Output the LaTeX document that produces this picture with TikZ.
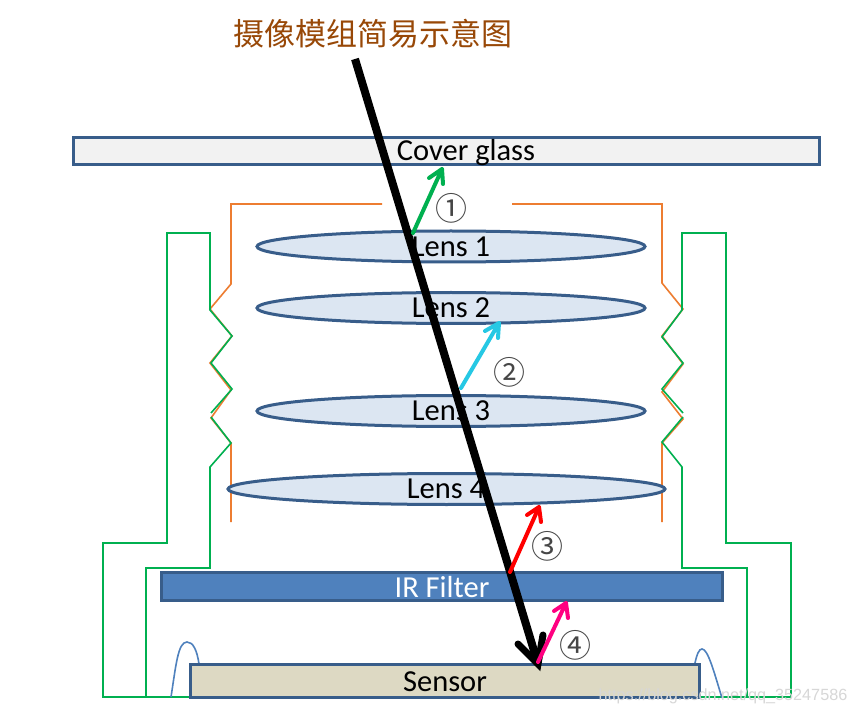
\documentclass[tikz,border=0pt]{standalone}
\usetikzlibrary{shapes.geometric}
\usepackage{fontspec}
\setmainfont{Carlito}
\newfontfamily\cjk{Noto Sans CJK SC}
\newfontfamily\wm{Liberation Sans}
\begin{document}
\begin{tikzpicture}[x=1pt,y=-1pt,
  orangeline/.style={draw={rgb,255:red,237;green,125;blue,49},line width=1.6pt,line join=miter},
  greenline/.style={draw={rgb,255:red,0;green,176;blue,80},line width=1.6pt},
  bump/.style={draw={rgb,255:red,79;green,129;blue,189},line width=1.6pt},
  part/.style={draw={rgb,255:red,56;green,93;blue,138},line width=3pt,inner sep=0pt},
  lens/.style={part,ellipse,fill={rgb,255:red,220;green,230;blue,242}},
  colorray/.style={line width=4pt,line cap=round,line join=round},
  num/.style={font=\cjk\fontsize{32}{32}\selectfont,inner sep=0pt,text={rgb,255:red,70;green,70;blue,70}},
  partlabel/.style={font=\fontsize{30.5}{31}\selectfont,inner sep=0pt,text=black}]
\useasboundingbox (0,0) rectangle (855,714);
\fill[white] (0,0) rectangle (855,714);
% housing
\draw[orangeline] (382,204) -- (231,204) -- (231,284) -- (210,309) -- (232,336) -- (210,363) -- (231,390) -- (211,418) -- (231,443) -- (231,522);
\draw[orangeline] (512,204) -- (662,204) -- (662,283) -- (683,309) -- (662,336) -- (683,364) -- (662,392) -- (683,419) -- (662,443) -- (662,522);
\draw[greenline] (190,697) -- (103,697) -- (103,543) -- (167,543) -- (167,233) -- (210,233) -- (210,310) -- (232,336) -- (211,363) -- (232,389) -- (211,413);
\draw[greenline] (211,417) -- (231,443) -- (210,467) -- (210,568) -- (146,568) -- (146,697);
\draw[greenline] (700,697) -- (791,697) -- (791,543) -- (726,543) -- (726,233) -- (682,233) -- (682,310) -- (662,337) -- (683,363) -- (662,389) -- (683,413);
\draw[greenline] (683,417) -- (662,442) -- (682,467) -- (682,568) -- (747,568) -- (747,697);
\draw[bump] (171,697) .. controls (176,665) and (178,642) .. (187,642) .. controls (193,642) and (197,650) .. (199,664);
\draw[bump] (695,663) .. controls (697,654) and (699,649) .. (702,649) .. controls (708,649) and (714,672) .. (722,698);
% parts
\node[part,rectangle,fill={rgb,255:red,242;green,242;blue,242},minimum width=746pt,minimum height=27pt] (cover) at (446.5,151) {};
\node[partlabel] (coverlabel) at (466,153) {Cover glass};
\node[lens,minimum width=388pt,minimum height=31pt] (l1) at (451,246.5) {};
\node[partlabel] at (451,247) {Lens 1};
\node[lens,minimum width=388pt,minimum height=31pt] (l2) at (451,308) {};
\node[partlabel] at (451,308) {Lens 2};
\node[lens,minimum width=388pt,minimum height=31pt] (l3) at (451,411) {};
\node[partlabel] at (451,411) {Lens 3};
\node[lens,minimum width=437pt,minimum height=31pt] (l4) at (446.5,489) {};
\node[partlabel] at (446,489) {Lens 4};
\node[part,rectangle,fill={rgb,255:red,79;green,129;blue,189},minimum width=561pt,minimum height=28pt] (ir) at (442,586.5) {};
\node[partlabel,text=white] at (442,587) {IR Filter};
\node[part,rectangle,fill={rgb,255:red,221;green,217;blue,195},minimum width=509pt,minimum height=33pt] (sensor) at (445,681) {};
\node[partlabel] at (445,682) {Sensor};
% rays
\coordinate (rayin) at (355,59);
\coordinate (rayend) at (538,664);
\draw[line width=8pt,line cap=butt] (rayin) -- (rayend);
\draw[line width=7pt,line join=miter,line cap=round] (518,644) -- (rayend) -- (543,635);
\coordinate (g0) at (413,233); \coordinate (g1) at (442,169);
\coordinate (c0) at (461,388); \coordinate (c1) at (499,323);
\coordinate (r0) at (510,572); \coordinate (r1) at (539,507);
\coordinate (m0) at (538,662); \coordinate (m1) at (566,603);
\draw[colorray,draw={rgb,255:red,0;green,176;blue,80}] (g0) -- (g1) (429,178) -- (g1) -- (443,184);
\draw[colorray,draw={rgb,255:red,38;green,200;blue,228}] (c0) -- (c1) (485,331) -- (c1) -- (498,338);
\draw[colorray,draw={rgb,255:red,255;green,0;blue,0}] (r0) -- (r1) (527,515) -- (r1) -- (541,522);
\draw[colorray,draw={rgb,255:red,255;green,0;blue,128}] (m0) -- (m1) (554,611) -- (m1) -- (568,618);
% numbers
\node[num] (n1) at (451,208) {①};
\node[num] (n2) at (509,372) {②};
\node[num] (n3) at (547,546) {③};
\node[num] (n4) at (575,645) {④};
% title
\node[font=\cjk\fontsize{31}{31}\selectfont,inner sep=0pt,text={rgb,255:red,152;green,72;blue,7}] (title) at (373,34) {摄像模组简易示意图};
% watermark
\node[font=\wm\fontsize{16.2}{16}\selectfont,inner sep=0pt,text={rgb,255:red,215;green,215;blue,215}] (wm) at (723,696) {https://blog.csdn.net/qq\_35247586};
\end{tikzpicture}
\end{document}
